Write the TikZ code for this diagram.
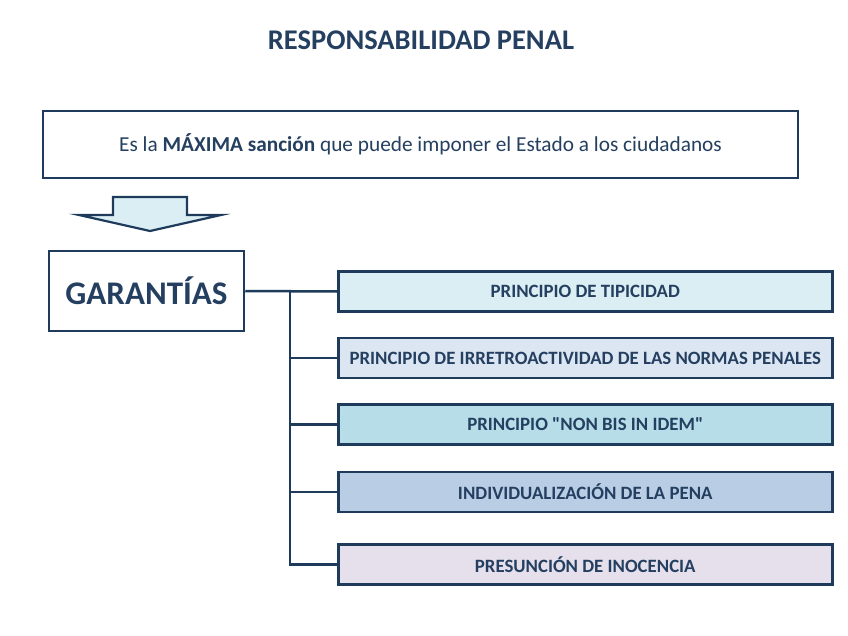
\documentclass[tikz,border=0pt]{standalone}
\usepackage{fontspec}
\setmainfont{Carlito}
\newfontfamily\plainfont{Carlito}
\definecolor{navy}{HTML}{1F3B5C}
\definecolor{txt}{HTML}{243F60}
\definecolor{cA}{HTML}{DBEEF4}
\definecolor{cB}{HTML}{DCE6F2}
\definecolor{cC}{HTML}{B7DDE8}
\definecolor{cD}{HTML}{B9CDE5}
\definecolor{cE}{HTML}{E6E0EC}
\begin{document}
\begin{tikzpicture}[x=1pt,y=-1pt,
  frame/.style={draw=navy,line width=2.5pt,inner sep=0pt,text=txt},
  item/.style={frame,minimum width=494pt,minimum height=40pt,anchor=west,font=\fontsize{18.8}{22}\selectfont\bfseries},
  link/.style={draw=navy,line width=2.5pt}]
\useasboundingbox (0,0) rectangle (848,636);
\node[text=txt,font=\fontsize{28.5}{34}\selectfont\bfseries] (title) at (421,40) {RESPONSABILIDAD PENAL};
\node[frame,minimum width=755pt,minimum height=67pt] (def) at (420.5,144.5)
  {\fontsize{21.3}{25}\selectfont Es la \textbf{MÁXIMA sanción} que puede imponer el Estado a los ciudadanos};
\draw[draw=navy,line width=2.2pt,fill=cA,line join=miter] (113,197) -- (187,197) -- (187,215) -- (221,215) -- (150,231) -- (79,215) -- (113,215) -- cycle;
\node[frame,minimum width=195pt,minimum height=80pt,font=\fontsize{33}{38}\selectfont\bfseries] (gar) at (146.5,291) {GARANTÍAS};
\node[item,fill=cA] (p1) at (337,291.5) {PRINCIPIO DE TIPICIDAD};
\node[item,fill=cB] (p2) at (337,358) {PRINCIPIO DE IRRETROACTIVIDAD DE LAS NORMAS PENALES};
\node[item,fill=cC] (p3) at (337,424.5) {\plainfont\bfseries PRINCIPIO "NON BIS IN IDEM"};
\node[item,fill=cD] (p4) at (337,492) {INDIVIDUALIZACIÓN DE LA PENA};
\node[item,fill=cE] (p5) at (337,564.5) {PRESUNCIÓN DE INOCENCIA};
\coordinate (bus) at (290,291.5);
\draw[link] (gar.east) -- (p1.west);
\draw[link] (bus) |- (p5.west);
\draw[link] (bus |- p2.west) -- (p2.west);
\draw[link] (bus |- p3.west) -- (p3.west);
\draw[link] (bus |- p4.west) -- (p4.west);
\end{tikzpicture}
\end{document}
